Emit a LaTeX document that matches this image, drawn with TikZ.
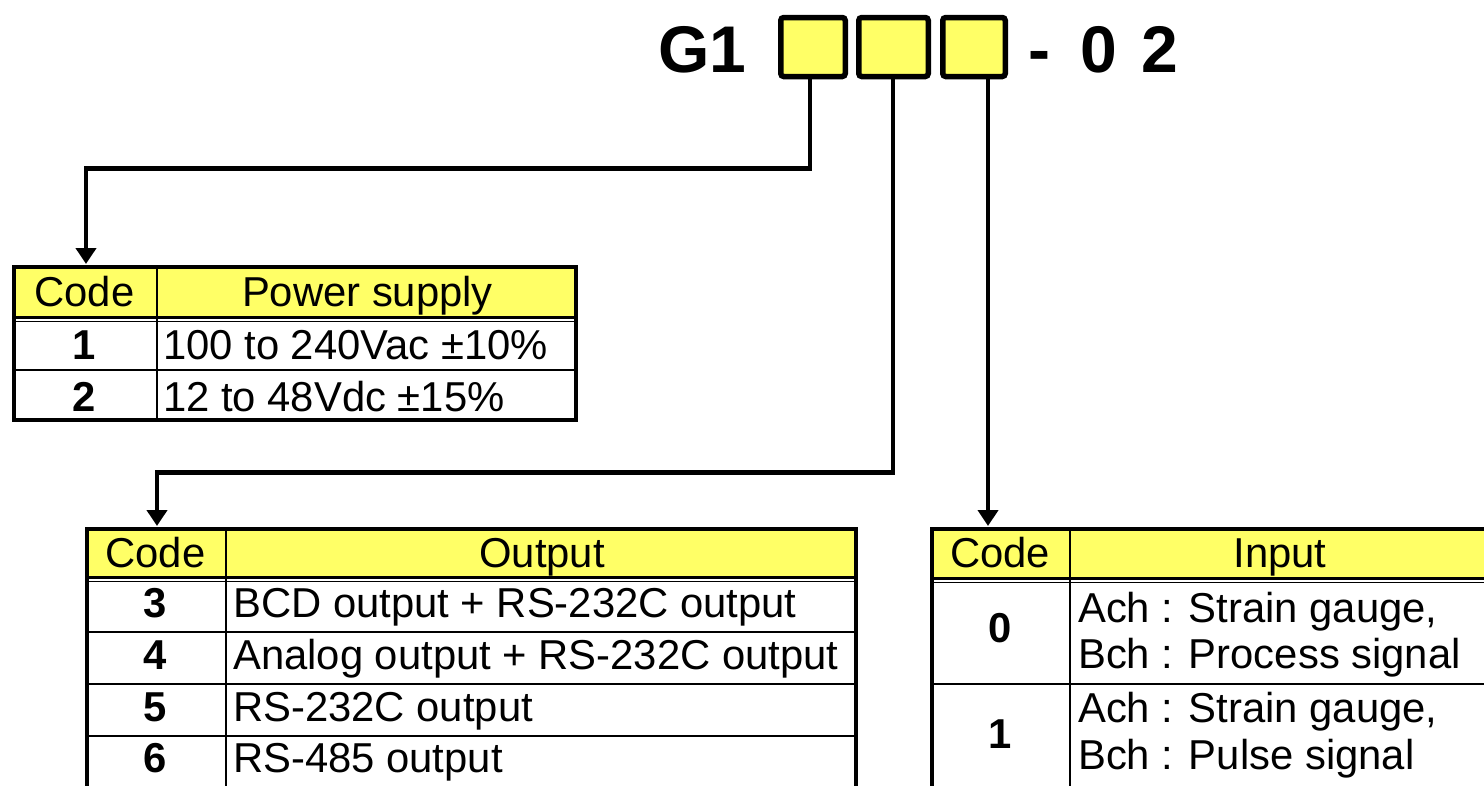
\documentclass[tikz,border=0pt]{standalone}
\usepackage{fontspec}
\setmainfont{Liberation Sans}
\usetikzlibrary{arrows.meta}
\definecolor{hdr}{HTML}{FFFF66}
\newcommand\tbfont{\fontsize{41.8}{46}\selectfont}
\newcommand\bigfont{\fontsize{66}{74}\selectfont\bfseries}
\tikzset{
  selbox/.style={draw, line width=5.5pt, fill=hdr, rounded corners=3pt, minimum height=59pt, inner sep=0pt},
  conn/.style={line width=4.5pt, -{Triangle[width=20pt,length=16pt]}},
  outerline/.style={line width=4pt},
  gridline/.style={line width=2pt},
  colline/.style={line width=2.5pt},
  cell/.style={font=\tbfont, inner sep=0pt, anchor=base west},
  hcell/.style={font=\tbfont, inner sep=0pt, anchor=base},
  ccell/.style={font=\tbfont\bfseries, inner sep=0pt, anchor=base},
  bigtext/.style={font=\bigfont, inner sep=0pt}
}
\begin{document}
\begin{tikzpicture}[x=1pt,y=-1pt]
\useasboundingbox (0,0) rectangle (1484,785);
\clip (0,0) rectangle (1484,785);
\fill[white] (0,0) rectangle (1484,785);

% ---- model code ----
\node[bigtext, anchor=base west] (g1) at (658,72) {G1};
\node[selbox, minimum width=64.5pt] (b1) at (813,47) {};
\node[selbox, minimum width=69.5pt] (b2) at (893.5,47) {};
\node[selbox, minimum width=62.5pt] (b3) at (974,47) {};
\node[bigtext, anchor=base] (dash) at (1039,72) {-};
\node[bigtext, anchor=base west] (suf) at (1080,72) {0\hspace{6pt} 2};

% ---- target coordinates ----
\coordinate (tpw) at (86,264);
\coordinate (tout) at (157,526);
\coordinate (tin) at (988,526);

% ---- power supply table ----
\fill[hdr] (14,267) rectangle (576,318);
\draw[colline] (157,267) -- (157,420);
\draw[line width=3pt] (14,317) -- (576,317);
\draw[line width=1.5pt] (14,321.5) -- (576,321.5);
\draw[gridline] (14,370) -- (576,370);
\draw[outerline] (14,267) rectangle (576,420);
\node[hcell] (pwc) at (84.5,306) {Code};
\node[hcell] (pwh) at (367.5,306) {Power supply};
\node[ccell] (pw1c) at (84.5,359) {1};
\node[cell] (pw1t) at (163,359) {100 to 240Vac ±10\%};
\node[ccell] (pw2c) at (84.5,411) {2};
\node[cell] (pw2t) at (163,411) {12 to 48Vdc ±15\%};

% ---- output table ----
\fill[hdr] (87,529) rectangle (856,578);
\draw[colline] (226,529) -- (226,800);
\draw[line width=3pt] (87,577) -- (856,577);
\draw[line width=1.5pt] (87,581.5) -- (856,581.5);
\draw[gridline] (87,632) -- (856,632);
\draw[gridline] (87,684) -- (856,684);
\draw[gridline] (87,736) -- (856,736);
\draw[outerline] (87,800) -- (87,529) -- (856,529) -- (856,800);
\node[hcell] (otc) at (155.5,567) {Code};
\node[hcell] (oth) at (542,567) {Output};
\node[ccell] (o3c) at (155.5,617) {3};
\node[cell] (o3t) at (233,617) {BCD output + RS-232C output};
\node[ccell] (o4c) at (155.5,669) {4};
\node[cell] (o4t) at (233,669) {Analog output + RS-232C output};
\node[ccell] (o5c) at (155.5,721) {5};
\node[cell] (o5t) at (233,721) {RS-232C output};
\node[ccell] (o6c) at (155.5,772) {6};
\node[cell] (o6t) at (233,772) {RS-485 output};

% ---- input table ----
\fill[hdr] (932,529) rectangle (1495,579);
\draw[colline] (1070,529) -- (1070,800);
\draw[line width=3pt] (932,578) -- (1495,578);
\draw[line width=1.5pt] (932,582.5) -- (1495,582.5);
\draw[gridline] (932,684) -- (1495,684);
\draw[outerline] (932,800) -- (932,529) -- (1495,529);
\node[hcell] (itc) at (1000,567) {Code};
\node[hcell] (ith) at (1280,567) {Input};
\node[ccell] (i0c) at (1000,642) {0};
\node[cell] (i0a) at (1078,622) {Ach : Strain gauge,};
\node[cell] (i0b) at (1078,668) {Bch : Process signal};
\node[ccell] (i1c) at (1000,748) {1};
\node[cell] (i1a) at (1078,722) {Ach : Strain gauge,};
\node[cell] (i1b) at (1078,769) {Bch : Pulse signal};

% ---- connectors ----
\draw[conn] ([xshift=-3pt]b1.south) -- ++(0,89) -| (tpw);
\draw[conn] ([xshift=-0.5pt]b2.south) -- ++(0,393) -| (tout);
\draw[conn] ([xshift=14pt]b3.south) -- (tin);
\end{tikzpicture}
\end{document}
